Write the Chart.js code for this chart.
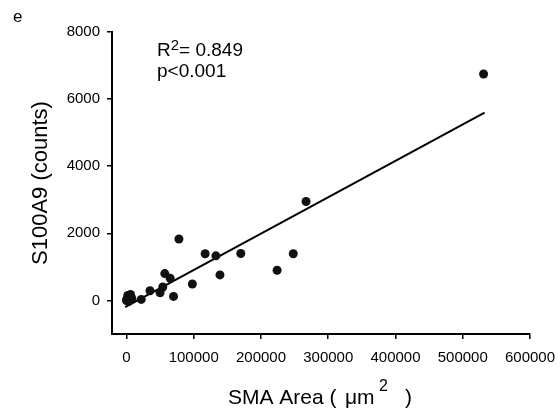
<!DOCTYPE html>
<html>
<head>
<meta charset="utf-8">
<script src="https://cdn.jsdelivr.net/npm/chart.js@4.4.1/dist/chart.umd.min.js"></script>
<style>
  body { margin: 0; background: #fff; }
  canvas { display: block; }
</style>
</head>
<body>
<canvas id="scatter" width="560" height="411"></canvas>
<script>
// values
var smaArea = [0, 1000, 2000, 3000, 4000, 6000, 8000, 22000, 35000, 50000, 54000, 57000,
               65000, 70000, 78000, 98000, 117000, 133000, 139000, 170000, 224000, 248000,
               267000, 531000];
var s100a9 = [0, 50, 150, -30, 100, 180, 60, 30, 290, 230, 400, 800,
              660, 120, 1830, 490, 1390, 1330, 760, 1400, 900, 1390,
              2950, 6750];

// fitted line, two ends
var fitX = [-2000, 532500];
var fitY = [-200, 5600];

var xTicks = [0, 100000, 200000, 300000, 400000, 500000, 600000];
var yTicks = [0, 2000, 4000, 6000, 8000];

var fontName = "'Liberation Sans', Arial, sans-serif";

function toPoints(xs, ys) {
    var pts = [];
    for (var i = 0; i < xs.length; i++) {
        pts.push({x: xs[i], y: ys[i]});
    }
    return pts;
}

// panel letter, stats and x title (with superscripts)
var textPlugin = {
    id: 'texts',
    afterDraw: function(chart) {
        var ctx = chart.ctx;
        var area = chart.chartArea;
        ctx.save();
        ctx.fillStyle = '#000';
        ctx.textBaseline = 'alphabetic';
        ctx.textAlign = 'left';

        ctx.font = '17px ' + fontName;
        ctx.fillText('e', 13, 22);

        // R2 / p
        ctx.font = '19px ' + fontName;
        ctx.fillText('R', 157, 56);
        var w = ctx.measureText('R').width;
        ctx.font = '15px ' + fontName;
        ctx.fillText('2', 157 + w, 50);
        var w2 = ctx.measureText('2').width;
        ctx.font = '19px ' + fontName;
        ctx.fillText('= 0.849', 157 + w + w2, 56);
        ctx.fillText('p<0.001', 157, 77);

        // x axis title, pieces spaced like the original
        var cx = (area.left + area.right) / 2;
        var x0 = cx - 93;
        ctx.font = '21px ' + fontName;
        ctx.fillText('SMA Area (', x0, 404);
        ctx.fillText('\u03bcm', x0 + 117, 404);
        ctx.fillText(')', x0 + 177, 404);
        ctx.font = '16px ' + fontName;
        ctx.fillText('2', x0 + 151, 391);
        ctx.restore();
    }
};

var ctx = document.querySelector('#scatter').getContext('2d');

var scatterChart = new Chart(ctx, {
    type: 'scatter',
    data: {
        datasets: [
            {
                label: 'S100A9',
                data: toPoints(smaArea, s100a9),
                backgroundColor: '#111',
                borderWidth: 0,
                pointRadius: 4.5,
                order: 1
            },
            {
                label: 'fit',
                data: toPoints(fitX, fitY),
                showLine: true,
                borderColor: '#000',
                borderWidth: 2,
                pointRadius: 0,
                order: 2
            }
        ]
    },
    options: {
        responsive: false,
        animation: false,
        devicePixelRatio: 1,
        layout: {
            padding: {top: 32, right: 30, left: 0, bottom: 0}
        },
        plugins: {
            legend: {display: false},
            tooltip: {enabled: false}
        },
        scales: {
            x: {
                type: 'linear',
                min: -21500,
                max: 600000,
                afterBuildTicks: function(scale) {
                    scale.ticks = xTicks.map(function(v) { return {value: v}; });
                },
                afterFit: function(scale) {
                    scale.height = 77;
                    scale.paddingLeft = 0;
                    scale.paddingRight = 0;
                },
                ticks: {
                    color: '#000',
                    font: {family: fontName, size: 15},
                    padding: 10,
                    maxRotation: 0,
                    autoSkip: false,
                    callback: function(v) { return String(v); }
                },
                grid: {
                    drawOnChartArea: false,
                    drawTicks: true,
                    tickLength: 5,
                    color: '#000',
                    lineWidth: 1.5
                },
                border: {display: true, color: '#000', width: 2}
            },
            y: {
                type: 'linear',
                min: -1000,
                max: 8000,
                afterBuildTicks: function(scale) {
                    scale.ticks = yTicks.map(function(v) { return {value: v}; });
                },
                afterFit: function(scale) {
                    scale.width = 112;
                    scale.paddingTop = 0;
                    scale.paddingBottom = 0;
                },
                title: {
                    display: true,
                    text: 'S100A9 (counts)',
                    color: '#000',
                    font: {family: fontName, size: 22},
                    padding: {top: 28, bottom: 0}
                },
                ticks: {
                    color: '#000',
                    font: {family: fontName, size: 15},
                    padding: 7,
                    callback: function(v) { return String(v); }
                },
                grid: {
                    drawOnChartArea: false,
                    drawTicks: true,
                    tickLength: 5,
                    color: '#000',
                    lineWidth: 1.5
                },
                border: {display: true, color: '#000', width: 2}
            }
        }
    },
    plugins: [textPlugin]
});
</script>
</body>
</html>
